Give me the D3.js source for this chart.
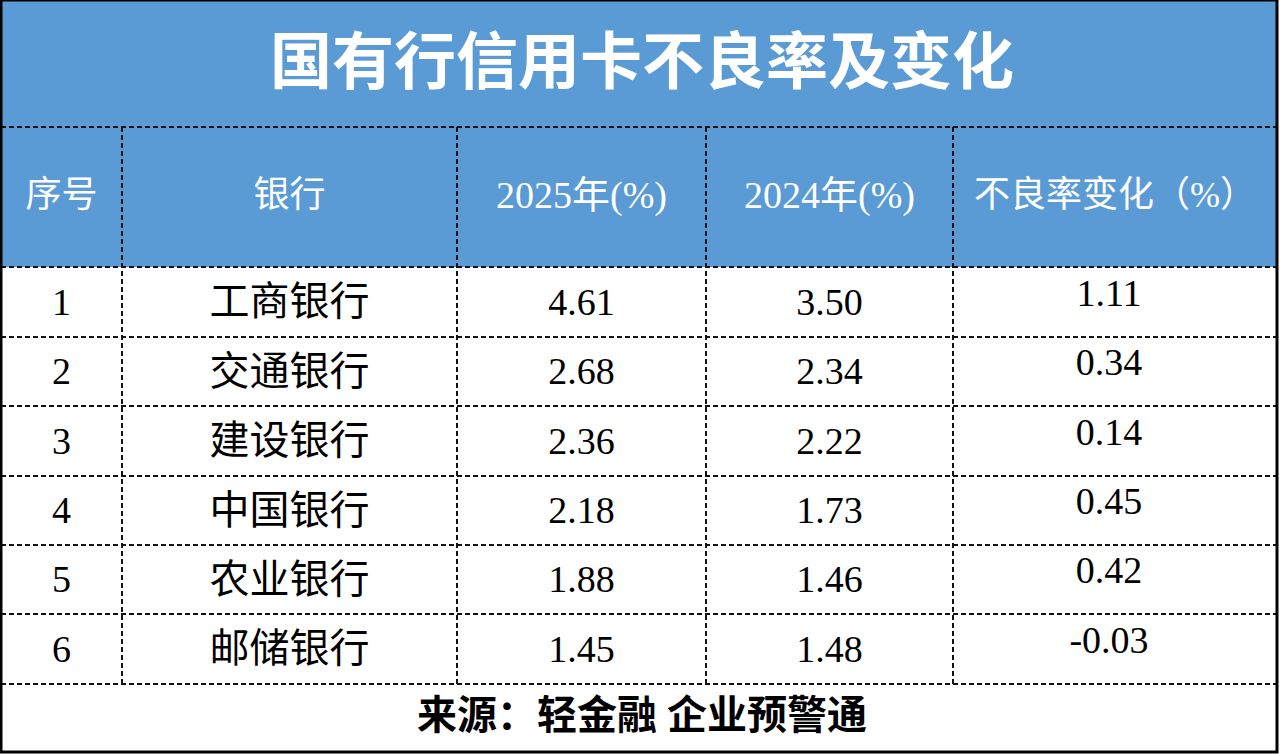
<!DOCTYPE html><html><head><meta charset="utf-8">
<script src="https://cdn.jsdelivr.net/npm/d3@7"></script>
<style>body{margin:0;background:#fff}</style></head><body><svg id="c" width="1280" height="754"></svg>
<script>
const title="国有行信用卡不良率及变化";
const headers=["序号","银行","2025年(%)","2024年(%)","不良率变化（%）"];
const seq=["1","2","3","4","5","6"];
const banks=["工商银行","交通银行","建设银行","中国银行","农业银行","邮储银行"];
const v2025=["4.61","2.68","2.36","2.18","1.88","1.45"];
const v2024=["3.50","2.34","2.22","1.73","1.46","1.48"];
const change=["1.11","0.34","0.14","0.45","0.42","-0.03"];
const source="来源：轻金融 企业预警通";

const svg=d3.select("#c");
const colX=[1,122,457,706,953,1277];
const rowY=[267,337,406,476,545,614,684];
const blue="#5b9bd5";
const font="'Liberation Serif','Noto Sans CJK SC',serif";
svg.append("rect").attr("x",1).attr("y",0).attr("width",1276).attr("height",267).attr("fill",blue);
svg.append("text").attr("x",642).attr("y",70).attr("text-anchor","middle").attr("dominant-baseline","middle")
 .attr("fill","#fff").attr("font-size",62).attr("font-weight","bold").attr("font-family",font).text(title);
const hSize=[36,36,38,38,36];
headers.forEach((h,i)=>svg.append("text").attr("x",(colX[i]+colX[i+1])/2).attr("y",199).attr("text-anchor","middle")
 .attr("dominant-baseline","middle").attr("fill","#fff").attr("font-size",hSize[i]).attr("font-family",font).text(h));
const cols=[seq,banks,v2025,v2024,change];
const xOff=[0,0,0,0,-6];
cols.forEach((col,ci)=>col.forEach((t,ri)=>{
 svg.append("text").attr("x",(colX[ci]+colX[ci+1])/2+xOff[ci]).attr("y",(ci==4?(rowY[ri]+rowY[ri+1])/2-5:(rowY[ri]+rowY[ri+1])/2+4))
  .attr("text-anchor","middle").attr("dominant-baseline","middle").attr("fill","#000")
  .attr("font-size",ci==1?40:38).attr("font-family",font).text(t);
}));
svg.append("text").attr("x",642).attr("y",720).attr("text-anchor","middle").attr("dominant-baseline","middle")
 .attr("fill","#000").attr("font-size",40).attr("font-weight","bold").attr("font-family",font).text(source);
const dash="5,3";
[127,267,...rowY.slice(1)].forEach(y=>svg.append("line").attr("x1",1).attr("x2",1277).attr("y1",y).attr("y2",y)
 .attr("stroke","#111").attr("stroke-width",2).attr("stroke-dasharray",dash));
colX.slice(1,5).forEach(x=>svg.append("line").attr("x1",x).attr("x2",x).attr("y1",127).attr("y2",684)
 .attr("stroke","#111").attr("stroke-width",2).attr("stroke-dasharray",dash));
svg.append("rect").attr("x",1).attr("y",0).attr("width",1276).attr("height",752).attr("fill","none").attr("stroke","#000").attr("stroke-width",3);
</script></body></html>
